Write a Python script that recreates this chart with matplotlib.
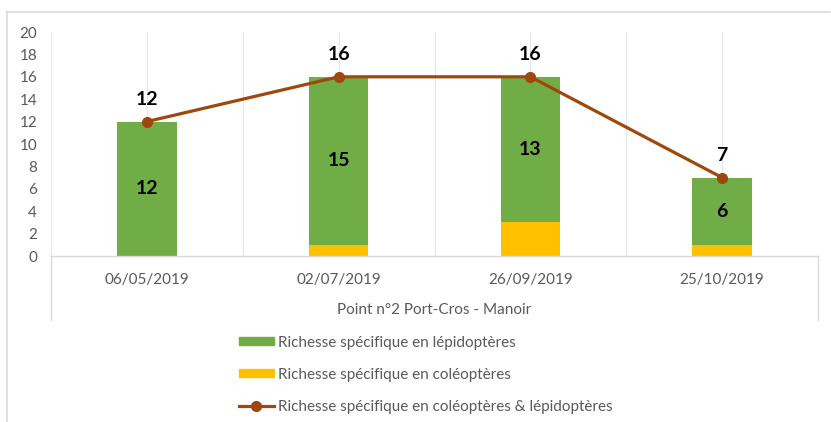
import matplotlib.pyplot as plt
from matplotlib.lines import Line2D
from matplotlib.patches import Patch
import numpy as np

plt.rcParams['font.family'] = ['Lato', 'DejaVu Sans']

dates = ["06/05/2019", "02/07/2019", "26/09/2019", "25/10/2019"]
lepido = [12, 15, 13, 6]
coleo = [0, 1, 3, 1]
total = [12, 16, 16, 7]
group_label = "Point n°2 Port-Cros - Manoir"
legend_labels = ["Richesse spécifique en lépidoptères",
                 "Richesse spécifique en coléoptères",
                 "Richesse spécifique en coléoptères & lépidoptères"]

green = "#70AD47"
yellow = "#FFC000"
brown = "#9E480E"
grey_txt = "#595959"
grid_c = "#E6E6E6"

fig = plt.figure(figsize=(8.31, 4.22), dpi=100)
ax = fig.add_axes([51 / 831, 1 - 256 / 422, 767 / 831, 224 / 422])

x = np.arange(len(dates))
w = 0.31
ax.bar(x, coleo, w, color=yellow, zorder=2)
ax.bar(x, lepido, w, bottom=coleo, color=green, zorder=2)
ax.plot(x, total, color=brown, lw=2.3, marker="o", ms=7, zorder=3)

for i in range(len(dates)):
    ax.text(x[i], coleo[i] + lepido[i] / 2, str(lepido[i]), ha="center", va="center",
            fontsize=14, fontweight="bold", color="black", zorder=4)
    ax.annotate(str(total[i]), (x[i], total[i]), xytext=(0, 10), textcoords="offset points",
                ha="center", va="bottom", fontsize=14, fontweight="bold", color="black", zorder=4)

ax.set_xlim(-0.5, len(dates) - 0.5)
ax.set_ylim(0, 20)
ax.set_yticks(range(0, 21, 2))
ax.set_xticks(x)
ax.set_xticklabels(dates)
ax.tick_params(axis="both", length=0, labelsize=11, colors=grey_txt)
ax.tick_params(axis="y", pad=10)
ax.tick_params(axis="x", pad=12)
for s in ["top", "right", "left"]:
    ax.spines[s].set_visible(False)
ax.spines["bottom"].set_color("#D9D9D9")
ax.spines["bottom"].set_linewidth(1)

for gx in np.arange(-0.5, len(dates), 0.5):
    ax.axvline(gx, color=grid_c, lw=0.8, zorder=0)

# category axis box below plot
for xx in [51 / 831, 818 / 831]:
    fig.add_artist(Line2D([xx, xx], [1 - 256 / 422, 1 - 320 / 422], color="#D9D9D9", lw=1))
fig.text(434 / 831, 1 - 310 / 422, group_label, ha="center", va="center", fontsize=11, color=grey_txt)

# outer chart border (left and top only visible)
fig.add_artist(Line2D([7 / 831, 7 / 831], [0, 1 - 12 / 422], color="#D9D9D9", lw=1.2))
fig.add_artist(Line2D([7 / 831, 830 / 831], [1 - 12 / 422, 1 - 12 / 422], color="#D9D9D9", lw=1.2))

handles = [Patch(color=green), Patch(color=yellow),
           Line2D([], [], color=brown, lw=2.3, marker="o", ms=7)]
leg = fig.legend(handles, legend_labels, loc="upper left", bbox_to_anchor=(225 / 831, 1 - 322 / 422),
                 frameon=False, fontsize=11, handlelength=2.3, handleheight=0.45, handletextpad=0.25,
                 labelspacing=1.18, labelcolor=grey_txt)

fig.savefig("out.png", dpi=100, facecolor="white")
